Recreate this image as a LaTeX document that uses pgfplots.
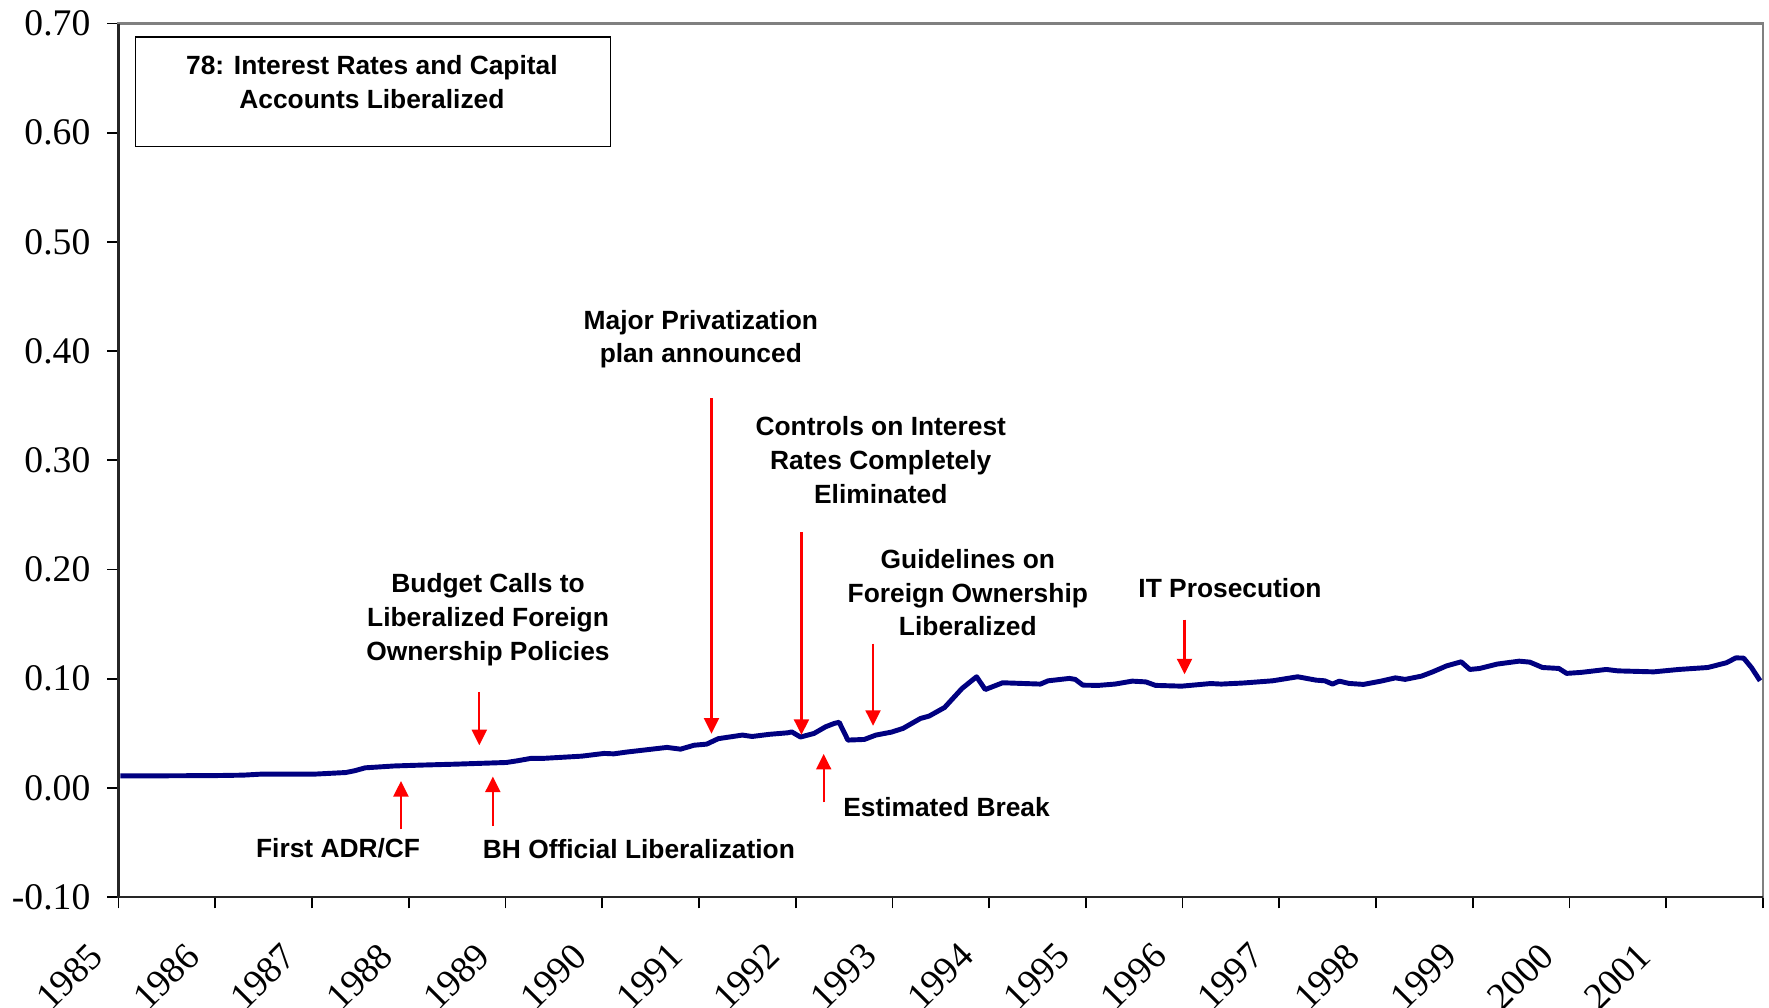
\documentclass[border=0pt]{standalone}
\usepackage{fontspec}
\setmainfont{Liberation Sans}
\newfontfamily\tnr{Liberation Serif}
\usepackage{pgfplots}
\usepackage{pgfplotstable}
\pgfplotsset{compat=1.18}
\usetikzlibrary{arrows.meta}
\definecolor{navy}{HTML}{000080}
\definecolor{frame}{HTML}{808080}

\pgfplotstableread{
x y
1985.02 0.0110
1985.50 0.0110
1986.00 0.0112
1986.29 0.0116
1986.47 0.0125
1987.02 0.0125
1987.35 0.0140
1987.44 0.0156
1987.55 0.0183
1987.85 0.0200
1988.13 0.0208
1988.50 0.0217
1989.01 0.0232
1989.12 0.0247
1989.26 0.0269
1989.38 0.0269
1989.79 0.0290
1990.02 0.0315
1990.12 0.0311
1990.25 0.0327
1990.67 0.0370
1990.81 0.0354
1990.95 0.0390
1991.08 0.0400
1991.20 0.0450
1991.45 0.0483
1991.55 0.0470
1991.73 0.0490
1991.92 0.0504
1991.96 0.0512
1992.05 0.0465
1992.19 0.0498
1992.31 0.0559
1992.40 0.0590
1992.45 0.0600
1992.54 0.0437
1992.71 0.0443
1992.83 0.0483
1992.99 0.0510
1993.11 0.0544
1993.29 0.0635
1993.38 0.0657
1993.54 0.0736
1993.72 0.0910
1993.87 0.1017
1993.96 0.0900
1994.14 0.0962
1994.53 0.0950
1994.61 0.0980
1994.83 0.1002
1994.89 0.0993
1994.97 0.0940
1995.13 0.0938
1995.30 0.0950
1995.48 0.0977
1995.62 0.0970
1995.72 0.0938
1995.99 0.0931
1996.29 0.0955
1996.40 0.0950
1996.63 0.0960
1996.93 0.0980
1997.19 0.1017
1997.38 0.0986
1997.47 0.0980
1997.55 0.0950
1997.62 0.0977
1997.72 0.0956
1997.87 0.0947
1998.05 0.0977
1998.20 0.1007
1998.30 0.0993
1998.47 0.1023
1998.58 0.1060
1998.73 0.1117
1998.88 0.1154
1998.97 0.1084
1999.07 0.1093
1999.25 0.1133
1999.48 0.1160
1999.59 0.1151
1999.72 0.1102
1999.89 0.1093
1999.97 0.1048
2000.12 0.1057
2000.38 0.1084
2000.50 0.1071
2000.87 0.1062
2001.13 0.1084
2001.43 0.1102
2001.62 0.1145
2001.72 0.1190
2001.80 0.1188
2001.88 0.1102
2001.97 0.0980
}\datatable

\newcommand{\annfont}{\fontsize{7.5}{9.6}\selectfont\bfseries}
\tikzset{redarrow/.style={draw=red, line width=0.6pt, -{Triangle[length=1.55mm,width=1.5mm]}},
  ann/.style={font=\annfont, align=center, inner sep=0pt}}

\begin{document}
\begin{tikzpicture}
\useasboundingbox (-11.85mm,-11.1mm) rectangle (165.05mm,89.7mm);
\begin{axis}[
  at={(0,0)}, anchor=south west,
  scale only axis, width=164.45mm, height=87.35mm,
  xmin=1985, xmax=2002, ymin=-0.1, ymax=0.7,
  xtick={1985,1986,1987,1988,1989,1990,1991,1992,1993,1994,1995,1996,1997,1998,1999,2000,2001,2002},
  xticklabels={1985,1986,1987,1988,1989,1990,1991,1992,1993,1994,1995,1996,1997,1998,1999,2000,2001,{}},
  ytick={-0.1,0,0.1,0.2,0.3,0.4,0.5,0.6,0.7},
  yticklabels={-0.10,0.00,0.10,0.20,0.30,0.40,0.50,0.60,0.70},
  tick align=outside, major tick length=1.15mm,
  xtick pos=bottom, ytick pos=left,
  tick style={black, line width=0.5pt},
  axis line style={draw=frame, line width=0.6pt},
  ticklabel style={font=\tnr\fontsize{10.7}{12}\selectfont},
  xticklabel style={xshift=-2.2mm, yshift=-4.1mm, rotate=45, anchor=east, inner sep=0pt},
  yticklabel style={xshift=-1.6mm, anchor=east, inner sep=0pt},
  clip=false,
]
\draw[black!85, line width=0.6pt] (rel axis cs:0,1) -- (rel axis cs:0,0) -- (rel axis cs:1,0);
\addplot[navy, line width=1.4pt, line join=round, mark=none] table[x=x, y=y] {\datatable};

% title box
\draw[black, line width=0.5pt] (axis cs:1985.175,0.6876) rectangle (axis cs:1990.085,0.5874);
\node[ann] at (axis cs:1987.62,0.6463) {78: Interest Rates and Capital\\Accounts Liberalized};

% arrows
\draw[redarrow] (axis cs:1988.73,0.0878) -- (axis cs:1988.73,0.039);
\draw[redarrow] (axis cs:1991.13,0.357) -- (axis cs:1991.13,0.0496);
\draw[redarrow] (axis cs:1992.06,0.234) -- (axis cs:1992.06,0.0485);
\draw[redarrow] (axis cs:1992.80,0.132) -- (axis cs:1992.80,0.0568);
\draw[redarrow] (axis cs:1996.02,0.154) -- (axis cs:1996.02,0.104);
\draw[redarrow] (axis cs:1987.92,-0.038) -- (axis cs:1987.92,0.0062);
\draw[redarrow] (axis cs:1988.87,-0.035) -- (axis cs:1988.87,0.0103);
\draw[redarrow] (axis cs:1992.29,-0.0134) -- (axis cs:1992.29,0.031);

% labels
\node[ann] at (axis cs:1988.82,0.154) {Budget Calls to\\Liberalized Foreign\\Ownership Policies};
\node[ann] at (axis cs:1991.02,0.411) {Major Privatization\\plan announced};
\node[ann] at (axis cs:1992.88,0.300) {Controls on Interest\\Rates Completely\\Eliminated};
\node[ann] at (axis cs:1993.78,0.1786) {Guidelines on\\Foreign Ownership\\Liberalized};
\node[ann] at (axis cs:1996.49,0.1827) {IT Prosecution};
\node[ann] at (axis cs:1987.27,-0.0557) {First ADR/CF};
\node[ann] at (axis cs:1990.38,-0.0557) {BH Official Liberalization};
\node[ann] at (axis cs:1993.56,-0.0176) {Estimated Break};
\end{axis}
\end{tikzpicture}
\end{document}
